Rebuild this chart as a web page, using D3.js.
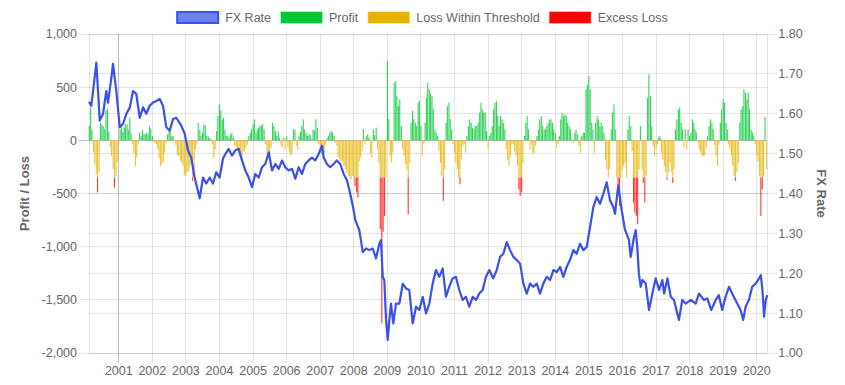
<!DOCTYPE html>
<html>
<head>
<meta charset="utf-8">
<script src="https://cdn.jsdelivr.net/npm/d3@7"></script>
<style>
body { margin: 0; background: #fff; }
svg { display: block; }
text { font-family: "Helvetica Neue", Helvetica, Arial, "Liberation Sans", sans-serif; fill: #666; }
</style>
</head>
<body>
<div id="vis"></div>
<script>
const width = 845;
const height = 385;

// tick labels
const years = [2001, 2002, 2003, 2004, 2005, 2006, 2007, 2008, 2009, 2010,
	2011, 2012, 2013, 2014, 2015, 2016, 2017, 2018, 2019, 2020];
const plTicks = [1000, 500, 0, -500, -1000, -1500, -2000];
const fxTicks = [1.8, 1.7, 1.6, 1.5, 1.4, 1.3, 1.2, 1.1, 1.0];

const legendItems = ["FX Rate", "Profit", "Loss Within Threshold", "Excess Loss"];

// FX rate
const fxRate = [
	["2000-02-12",1.630],["2000-03-08",1.620],["2000-03-27",1.657],["2000-05-02",1.728],["2000-06-08",1.583],
	["2000-07-14",1.600],["2000-08-18",1.657],["2000-09-06",1.628],["2000-10-12",1.690],["2000-10-30",1.725],
	["2000-12-05",1.657],["2001-01-12",1.566],["2001-02-17",1.575],["2001-03-25",1.600],["2001-05-01",1.616],
	["2001-06-05",1.657],["2001-07-10",1.650],["2001-08-17",1.590],["2001-09-22",1.616],["2001-10-27",1.600],
	["2001-12-03",1.620],["2002-01-08",1.628],["2002-02-14",1.632],["2002-03-22",1.637],["2002-04-27",1.620],
	["2002-06-02",1.566],["2002-07-09",1.558],["2002-08-14",1.587],["2002-09-18",1.590],["2002-11-12",1.570],
	["2002-12-19",1.550],["2003-01-24",1.508],["2003-02-28",1.490],["2003-04-06",1.440],["2003-05-31",1.388],
	["2003-07-06",1.440],["2003-08-11",1.425],["2003-09-17",1.440],["2003-10-22",1.425],["2003-11-27",1.453],
	["2004-01-03",1.440],["2004-02-08",1.487],["2004-03-05",1.499],["2004-04-10",1.512],["2004-05-16",1.495],
	["2004-06-21",1.508],["2004-07-28",1.512],["2004-09-02",1.483],["2004-10-08",1.458],["2004-11-14",1.440],
	["2004-12-20",1.416],["2005-01-25",1.449],["2005-03-03",1.440],["2005-04-08",1.466],["2005-05-14",1.474],
	["2005-06-20",1.503],["2005-07-26",1.458],["2005-08-31",1.474],["2005-10-07",1.462],["2005-11-12",1.483],
	["2005-12-17",1.466],["2006-01-23",1.458],["2006-02-28",1.462],["2006-04-05",1.437],["2006-05-11",1.466],
	["2006-06-17",1.449],["2006-07-22",1.474],["2006-08-28",1.483],["2006-10-03",1.490],["2006-11-08",1.483],
	["2006-12-15",1.499],["2007-01-20",1.520],["2007-02-08",1.490],["2007-03-15",1.474],["2007-04-20",1.466],
	["2007-05-27",1.474],["2007-07-01",1.483],["2007-08-07",1.474],["2007-09-13",1.449],["2007-10-19",1.433],
	["2007-11-24",1.399],["2007-12-31",1.358],["2008-01-18",1.333],["2008-03-01",1.308],["2008-04-08",1.253],
	["2008-05-13",1.262],["2008-06-18",1.258],["2008-07-25",1.262],["2008-08-30",1.237],["2008-10-05",1.274],
	["2008-10-23",1.283],["2008-11-11",1.191],["2008-11-28",1.183],["2008-12-17",1.083],["2009-01-04",1.033],
	["2009-01-22",1.083],["2009-02-09",1.124],["2009-03-06",1.074],["2009-04-04",1.124],["2009-05-11",1.124],
	["2009-06-17",1.174],["2009-07-22",1.162],["2009-08-27",1.158],["2009-10-03",1.074],["2009-11-08",1.116],
	["2009-12-14",1.108],["2010-01-20",1.141],["2010-02-25",1.099],["2010-04-02",1.124],["2010-05-08",1.174],
	["2010-06-13",1.208],["2010-07-19",1.191],["2010-08-25",1.212],["2010-09-30",1.141],["2010-11-04",1.166],
	["2010-12-11",1.187],["2011-01-16",1.191],["2011-02-21",1.158],["2011-03-30",1.133],["2011-05-05",1.141],
	["2011-06-10",1.116],["2011-07-17",1.141],["2011-08-22",1.133],["2011-09-27",1.149],["2011-11-03",1.158],
	["2011-12-09",1.191],["2012-01-14",1.208],["2012-02-26",1.187],["2012-04-04",1.208],["2012-05-10",1.241],
	["2012-06-15",1.249],["2012-07-22",1.278],["2012-08-27",1.258],["2012-10-02",1.241],["2012-11-08",1.233],
	["2012-12-14",1.224],["2013-01-19",1.174],["2013-02-24",1.149],["2013-04-01",1.174],["2013-05-07",1.166],
	["2013-06-13",1.174],["2013-07-19",1.149],["2013-08-24",1.174],["2013-09-30",1.191],["2013-11-05",1.183],
	["2013-12-11",1.208],["2014-01-17",1.203],["2014-02-22",1.216],["2014-03-29",1.191],["2014-05-05",1.216],
	["2014-06-10",1.233],["2014-07-16",1.258],["2014-08-22",1.249],["2014-09-27",1.274],["2014-11-02",1.258],
	["2014-12-09",1.266],["2015-01-14",1.316],["2015-02-19",1.366],["2015-03-27",1.391],["2015-05-02",1.374],
	["2015-06-07",1.399],["2015-07-14",1.428],["2015-08-19",1.383],["2015-09-24",1.366],["2015-10-12",1.349],
	["2015-11-17",1.420],["2015-12-24",1.358],["2016-01-28",1.310],["2016-03-12",1.283],["2016-03-31",1.241],
	["2016-05-06",1.291],["2016-05-24",1.308],["2016-06-11",1.266],["2016-06-28",1.199],["2016-07-18",1.166],
	["2016-08-05",1.183],["2016-09-11",1.174],["2016-10-16",1.108],["2016-11-22",1.149],["2016-12-28",1.187],
	["2017-02-03",1.158],["2017-03-11",1.183],["2017-03-29",1.149],["2017-05-05",1.187],["2017-06-10",1.141],
	["2017-07-15",1.133],["2017-08-20",1.099],["2017-09-07",1.083],["2017-10-13",1.133],["2017-11-19",1.124],
	["2018-01-13",1.133],["2018-03-08",1.124],["2018-04-13",1.149],["2018-06-06",1.133],["2018-07-12",1.137],
	["2018-08-24",1.108],["2018-10-12",1.133],["2018-11-15",1.145],["2018-12-22",1.108],["2019-01-27",1.141],
	["2019-03-05",1.166],["2019-04-09",1.149],["2019-06-03",1.124],["2019-07-09",1.108],["2019-08-07",1.083],
	["2019-09-02",1.116],["2019-10-08",1.133],["2019-11-13",1.166],["2019-12-20",1.174],["2020-01-26",1.187],
	["2020-02-14",1.195],["2020-03-03",1.158],["2020-03-21",1.091],["2020-04-08",1.133],["2020-04-25",1.145]
];

// profit / loss, one value per half month (1st and 15th) from 15 Feb 2000
const pnlStart = [2000, 1, 15];
const pnl = [
	135, 310, 100, -115, -220, -320, -490, -300, 166, 150,
	135, 105, 280, 300, 80, -60, -147, -272, -445, -335,
	-210, -40, 103, 120, 75, 120, 150, 150, 100, 213,
	70, -40, -120, -240, -160, -40, 72, 40, 100, 55,
	60, 72, 56, 135, 110, 40, -15, -22, -37, -85,
	-170, -240, -220, -200, -115, -22, 56, 88, 90, 40,
	40, -20, -53, -140, -147, -190, -210, -240, -330, -335,
	-300, -290, -240, -210, -380, -270, -85, -40, 166, 100,
	40, 72, 150, 140, 40, 40, 20, 10, -40, -163,
	-85, 88, 229, 338, 280, 197, 213,
	100, 40, 40,
	25, 56, 72, 25, -53, -69, -100, -130, -150, -195,
	-110, -100, -69, -40, 40, 72, 103, 150, 197, 72,
	103, 119, 135, 140, 150, 103, -40, -115, -131, -131,
	-69, 166, 135, 88, 40, 88, 25, -50, -69, 25,
	-85, 40, -69, -115, -147, -120, 103, 103, -50, -85,
	40, 80, 135, 197, 103, 72, 40, 56, 50, 10,
	103, 90, 197, 119, -37, -85, -130, -180, -116, -40,
	20, 40, 72, 88, 75, 40, -22, -53, -160, -180,
	-195, -200, -240, -272, -300, -330, -340, -360, -335, -350,
	-430, -490,
	-540, -200, -160, -100, 103, -37, 40, 56,
	25, -120, -163, 103, 50, 119, -85, -210, -836, -1720,
	-860, -710, -350, 745, 200, -147, -210, -116, 542, 557,
	416, 322, 385, 135, -85, -147, -220, -272, -695, -210,
	166, 275, 200, 166, 135, 354, 370, 135, -147, -37,
	166, 400, 542, 479, 440, 416, 291, 103, 72, 40,
	-100, -210, -335, -570, -272, 166, 322, 354, 200, 103,
	-37, -116, -210, -272, -350, -413, -180, -53, -37, -116,
	40, 135, 197, 166, 119, 103, 135, 135, 166, 260,
	354, 291, 260, 260, 88, -85, 40, 72,
	135, 291,
	354, 370, 229, 135, 229, 197, 166, 103, -85, -180,
	-240, -147, -37, -37, -100, -147, -240, -460, -523, -490,
	-210, 40, 166, 229, 103, -85, -37, -116, -116, -53,
	40, 103, 197, 229, 135, 103, 103, 135, 166, 197,
	197, 166, 103, 72, -69, -37, 40, 197, 260, 229,
	245, 229, 166, 135, 103, 10, -22, 72, 103, 56,
	-50, -116, 40, 72, 72, 479, 526, 604, 479, 166,
	103, -116, 166, 229, 197, 135, 166, 135, 72, -180,
	-272, -350, -272, 103, 260, 338, 103, -350, -492, -617,
	-350, -272, -240, -210,
	-350, 103, 229, 135, -100, -585,
	-680, -711, -790, -272, 135, -272, -400, -585, -335, 400,
	620, 416, 135, -53, -147, -85, -37, 40, 25, -116,
	-180, -240, -300, -370, -300, -210, -300, -400, -272, 103,
	197, 291, 307, 166, 103, -69, 103, -85, 103, 40,
	72, 197, 166, 103, 72, -22, -85, -116, -147, -147,
	-140, -69, 40, 135, 197, 166, 103, -50, -147, -240,
	-40, 166, 291, 385, 354, 166, 103, -37, -85, -147,
	-240, -335, -382, -300, -210, 166, 291, 322, 479, 448,
	385, 448, 291, 103, 72, 40, -37, -147, -200, -335,
	-711, -460, -335, 220, -272
];
const lossThreshold = -350;

const colors = {
	fx: "#3a50e8",
	fxFill: "#6b80f0",
	profit: "#00c832",
	loss: "#e6b400",
	excess: "#ff0000"
};

const plot = { left: 89, right: 767.3, top: 34, bottom: 353 };
const parseDate = d3.timeParse("%Y-%m-%d");
const fmtPL = d3.formatLocale({ decimal: ".", thousands: ",", grouping: [3], currency: ["$", ""], minus: "-" }).format(",");
const fmtFX = d3.format(".2f");

const x = d3.scaleTime()
	.domain([new Date(2000, 1, 12), new Date(2020, 3, 25)])
	.range([plot.left, plot.right]);
const yPL = d3.scaleLinear().domain([-2000, 1000]).range([plot.bottom, plot.top]);
const yFX = d3.scaleLinear().domain([1.0, 1.8]).range([plot.bottom, plot.top]);

const svg = d3.select("#vis")
	.append("svg")
		.attr("width", width)
		.attr("height", height);

// grid
const grid = svg.append("g").attr("stroke-width", 1).attr("shape-rendering", "crispEdges");
grid.selectAll("line.pl")
	.data(plTicks)
	.enter().append("line")
		.attr("x1", plot.left - 10).attr("x2", plot.right)
		.attr("y1", d => yPL(d)).attr("y2", d => yPL(d))
		.attr("stroke", d => d === 0 ? "rgba(0,0,0,0.25)" : "rgba(0,0,0,0.1)");
grid.selectAll("line.fx")
	.data(fxTicks)
	.enter().append("line")
		.attr("x1", plot.left).attr("x2", plot.right + 10)
		.attr("y1", d => yFX(d)).attr("y2", d => yFX(d))
		.attr("stroke", "rgba(0,0,0,0.1)");
grid.selectAll("line.yr")
	.data(years)
	.enter().append("line")
		.attr("x1", d => x(new Date(d, 0, 1))).attr("x2", d => x(new Date(d, 0, 1)))
		.attr("y1", plot.top).attr("y2", plot.bottom + 10)
		.attr("stroke", (d, i) => i === 0 ? "rgba(0,0,0,0.25)" : "rgba(0,0,0,0.1)");
[plot.left, plot.right].forEach(px => {
	grid.append("line")
		.attr("x1", px).attr("x2", px)
		.attr("y1", plot.top).attr("y2", plot.bottom)
		.attr("stroke", "rgba(0,0,0,0.1)");
});

// bars
const pnlDate = i => new Date(pnlStart[0], pnlStart[1] + Math.floor((i + 1) / 2), i % 2 === 0 ? 15 : 1);
const bw = 1.1;
const bars = svg.append("g").attr("fill-opacity", 0.8);
pnl.forEach((v, i) => {
	const cx = x(pnlDate(i)) - bw / 2;
	if (v > 0) {
		bars.append("rect").attr("x", cx).attr("width", bw)
			.attr("y", yPL(v)).attr("height", yPL(0) - yPL(v))
			.attr("fill", colors.profit);
	} else if (v < 0) {
		const lv = Math.max(v, lossThreshold);
		bars.append("rect").attr("x", cx).attr("width", bw)
			.attr("y", yPL(0)).attr("height", yPL(lv) - yPL(0))
			.attr("fill", colors.loss);
		if (v < lossThreshold) {
			bars.append("rect").attr("x", cx).attr("width", bw)
				.attr("y", yPL(lossThreshold)).attr("height", yPL(v) - yPL(lossThreshold))
				.attr("fill", colors.excess);
		}
	}
});

// FX line
svg.append("path")
	.datum(fxRate)
	.attr("fill", "none")
	.attr("stroke", colors.fx)
	.attr("stroke-width", 2.2)
	.attr("stroke-linejoin", "round")
	.attr("d", d3.line()
		.x(d => x(parseDate(d[0])))
		.y(d => yFX(d[1])));

// tick labels
svg.append("g").selectAll("text")
	.data(plTicks)
	.enter().append("text")
		.attr("x", plot.left - 12).attr("y", d => yPL(d))
		.attr("dy", "0.35em")
		.attr("text-anchor", "end")
		.attr("font-size", 12.5)
		.text(d => fmtPL(d));
svg.append("g").selectAll("text")
	.data(fxTicks)
	.enter().append("text")
		.attr("x", plot.right + 11).attr("y", d => yFX(d))
		.attr("dy", "0.35em")
		.attr("font-size", 12.5)
		.text(d => fmtFX(d));
svg.append("g").selectAll("text")
	.data(years)
	.enter().append("text")
		.attr("x", d => x(new Date(d, 0, 1))).attr("y", plot.bottom + 22)
		.attr("text-anchor", "middle")
		.attr("font-size", 12.5)
		.text(d => d);

// axis titles
svg.append("text")
	.attr("transform", `translate(29,${(plot.top + plot.bottom) / 2}) rotate(-90)`)
	.attr("text-anchor", "middle")
	.attr("font-size", 13).attr("font-weight", "bold")
	.text("Profit / Loss");
svg.append("text")
	.attr("transform", `translate(817,${(plot.top + plot.bottom) / 2}) rotate(90)`)
	.attr("text-anchor", "middle")
	.attr("font-size", 13).attr("font-weight", "bold")
	.text("FX Rate");

// legend
const legend = svg.append("g");
const swatch = [
	{ fill: colors.fxFill, stroke: colors.fx, sw: 2 },
	{ fill: colors.profit, stroke: colors.profit, sw: 1 },
	{ fill: colors.loss, stroke: colors.loss, sw: 1 },
	{ fill: colors.excess, stroke: colors.excess, sw: 1 }
];
const items = legend.selectAll("g")
	.data(legendItems)
	.enter().append("g");
items.append("rect")
	.attr("x", 0).attr("y", 12).attr("width", 41).attr("height", 11)
	.attr("fill", (d, i) => swatch[i].fill)
	.attr("stroke", (d, i) => swatch[i].stroke)
	.attr("stroke-opacity", (d, i) => i === 0 ? 1 : 0.6)
	.attr("stroke-width", (d, i) => swatch[i].sw);
items.append("text")
	.attr("x", 48).attr("y", 22)
	.attr("font-size", 12.5)
	.text(d => d);
const widths = [];
items.each(function () {
	widths.push(48 + d3.select(this).select("text").node().getComputedTextLength());
});
const total = d3.sum(widths) + 10 * (widths.length - 1);
let offs = 422.5 - total / 2;
items.attr("transform", (d, i) => {
	const t = `translate(${offs},0)`;
	offs += widths[i] + 10;
	return t;
});
</script>
</body>
</html>
